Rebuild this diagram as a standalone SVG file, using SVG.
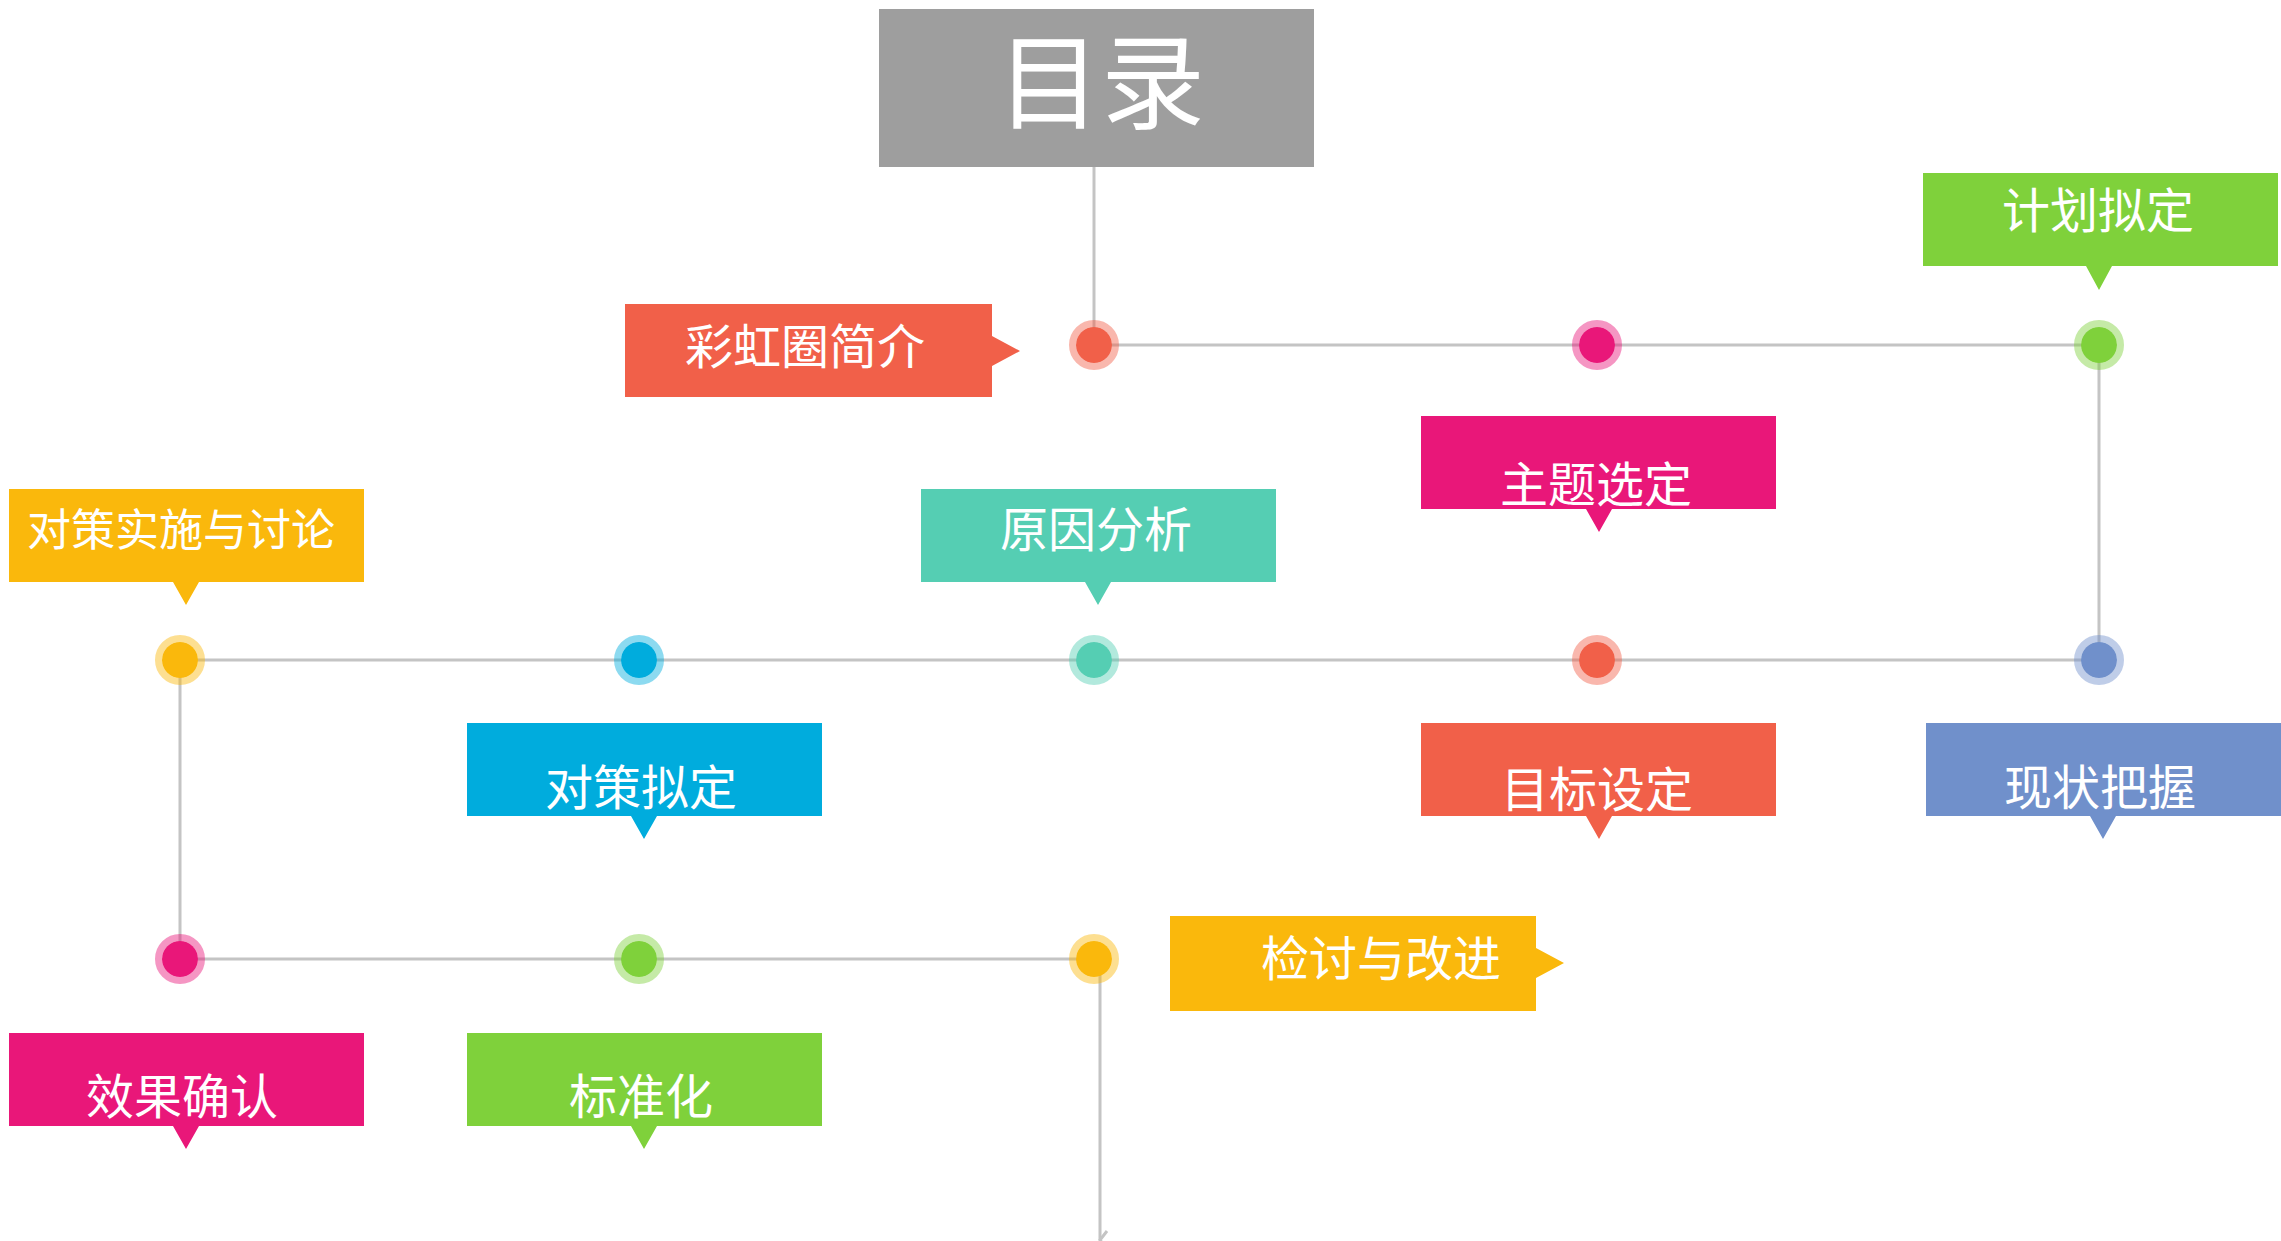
<svg xmlns="http://www.w3.org/2000/svg" width="2281" height="1241" viewBox="0 0 2281 1241">
<style>
.lbl{font-family:"Noto Sans CJK SC","Noto Sans",sans-serif;fill:#fff;text-anchor:middle;dominant-baseline:central;font-size:48px}
.con{stroke:#c4c4c4;stroke-width:3;fill:none}
.halo{fill:none;stroke-width:7;stroke-opacity:.45}
</style>
<defs>
<marker id="arr" viewBox="0 0 20 12" refX="10" refY="10" markerWidth="20" markerHeight="12" markerUnits="userSpaceOnUse" orient="auto">
<path d="M1,3 L10,10 L19,3" fill="none" stroke="#c4c4c4" stroke-width="3"/>
</marker>
</defs>
<rect width="2281" height="1241" fill="#fff"/>
<g id="connectors">
<line class="con" x1="1094" y1="167" x2="1094" y2="345"/>
<line class="con" x1="1094" y1="345" x2="2099" y2="345"/>
<line class="con" x1="2099" y1="345" x2="2099" y2="660"/>
<line class="con" x1="180" y1="660" x2="2099" y2="660"/>
<line class="con" x1="180" y1="660" x2="180" y2="959"/>
<line class="con" x1="180" y1="959" x2="1094" y2="959"/>
<line class="con" x1="1100" y1="972" x2="1100" y2="1240" marker-end="url(#arr)"/>
</g>
<g id="title">
<rect x="879" y="9" width="435" height="158" fill="#9e9e9e"/>
<text class="lbl" x="1101" y="75" style="font-size:104px">目录</text>
</g>
<g id="dots">
<g id="d1"><circle class="halo" cx="1094" cy="345" r="21.5" stroke="#f16049"/><circle cx="1094" cy="345" r="18" fill="#f16049"/></g>
<g id="d2"><circle class="halo" cx="1597" cy="345" r="21.5" stroke="#e91779"/><circle cx="1597" cy="345" r="18" fill="#e91779"/></g>
<g id="d3"><circle class="halo" cx="2099" cy="345" r="21.5" stroke="#7fd13b"/><circle cx="2099" cy="345" r="18" fill="#7fd13b"/></g>
<g id="d4"><circle class="halo" cx="2099" cy="660" r="21.5" stroke="#7090cb"/><circle cx="2099" cy="660" r="18" fill="#7090cb"/></g>
<g id="d5"><circle class="halo" cx="1597" cy="660" r="21.5" stroke="#f16049"/><circle cx="1597" cy="660" r="18" fill="#f16049"/></g>
<g id="d6"><circle class="halo" cx="1094" cy="660" r="21.5" stroke="#55ceb3"/><circle cx="1094" cy="660" r="18" fill="#55ceb3"/></g>
<g id="d7"><circle class="halo" cx="639" cy="660" r="21.5" stroke="#00acdd"/><circle cx="639" cy="660" r="18" fill="#00acdd"/></g>
<g id="d8"><circle class="halo" cx="180" cy="660" r="21.5" stroke="#fab80c"/><circle cx="180" cy="660" r="18" fill="#fab80c"/></g>
<g id="d9"><circle class="halo" cx="180" cy="959" r="21.5" stroke="#e91779"/><circle cx="180" cy="959" r="18" fill="#e91779"/></g>
<g id="d10"><circle class="halo" cx="639" cy="959" r="21.5" stroke="#7fd13b"/><circle cx="639" cy="959" r="18" fill="#7fd13b"/></g>
<g id="d11"><circle class="halo" cx="1094" cy="959" r="21.5" stroke="#fab80c"/><circle cx="1094" cy="959" r="18" fill="#fab80c"/></g>
</g>
<g id="n-caihong">
<path d="M625,304 H992 V336 L1020,351 L992,366 V397 H625 Z" fill="#f16049"/>
<text class="lbl" x="805" y="343">彩虹圈简介</text>
</g>
<g id="n-jihua">
<path d="M1923,173 H2278 V266 H2112 L2099,290 L2086,266 H1923 Z" fill="#7fd13b"/>
<text class="lbl" x="2098" y="207">计划拟定</text>
</g>
<g id="n-zhuti">
<path d="M1421,416 H1776 V509 H1612 L1599,532 L1586,509 H1421 Z" fill="#e91779"/>
<text class="lbl" x="1596" y="481">主题选定</text>
</g>
<g id="n-yuanyin">
<path d="M921,489 H1276 V582 H1111 L1098,605 L1085,582 H921 Z" fill="#55ceb3"/>
<text class="lbl" x="1096" y="526">原因分析</text>
</g>
<g id="n-duicesheshi">
<path d="M9,489 H364 V582 H199 L186,605 L173,582 H9 Z" fill="#fab80c"/>
<text class="lbl" x="181" y="527" style="font-size:44px">对策实施与讨论</text>
</g>
<g id="n-duicenid">
<path d="M467,723 H822 V816 H657 L644,839 L631,816 H467 Z" fill="#00acdd"/>
<text class="lbl" x="641" y="784">对策拟定</text>
</g>
<g id="n-mubiao">
<path d="M1421,723 H1776 V816 H1612 L1599,839 L1586,816 H1421 Z" fill="#f16049"/>
<text class="lbl" x="1597" y="786">目标设定</text>
</g>
<g id="n-xianzhuang">
<path d="M1926,723 H2281 V816 H2116 L2103,839 L2090,816 H1926 Z" fill="#7090cb"/>
<text class="lbl" x="2100" y="784">现状把握</text>
</g>
<g id="n-jiantao">
<path d="M1170,916 H1536 V948 L1564,963 L1536,978 V1011 H1170 Z" fill="#fab80c"/>
<text class="lbl" x="1381" y="955">检讨与改进</text>
</g>
<g id="n-xiaoguo">
<path d="M9,1033 H364 V1126 H199 L186,1149 L173,1126 H9 Z" fill="#e91779"/>
<text class="lbl" x="182" y="1093">效果确认</text>
</g>
<g id="n-biaozhun">
<path d="M467,1033 H822 V1126 H657 L644,1149 L631,1126 H467 Z" fill="#7fd13b"/>
<text class="lbl" x="641" y="1093">标准化</text>
</g>
</svg>
